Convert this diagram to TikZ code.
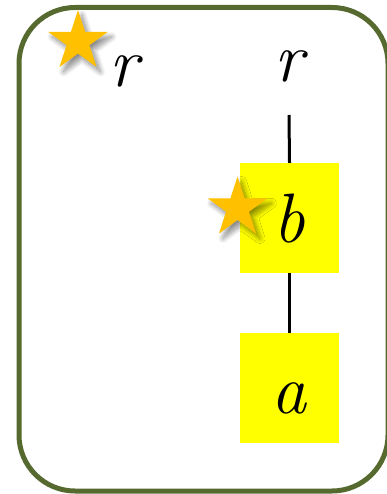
\documentclass[tikz,border=0pt]{standalone}
\usepackage{fontspec}
\usetikzlibrary{shapes.geometric,shadows.blur}
\definecolor{frameolive}{RGB}{86,106,47}
\definecolor{stargold}{RGB}{255,192,0}
\definecolor{boxyellow}{RGB}{255,255,0}
\tikzset{
  goldstar/.style={star, star points=5, star point ratio=2.618, minimum size=63pt, inner sep=0pt,
    fill=stargold, draw=none, blur shadow={shadow xshift=4pt, shadow yshift=-5pt, shadow blur steps=10, shadow blur radius=5pt, shadow opacity=45}},
  label text/.style={inner sep=0pt, font=\fontsize{70}{72}\selectfont\itshape},
  ybox/.style={fill=boxyellow, draw=none, minimum width=99pt, minimum height=110pt, inner sep=0pt},
  edge line/.style={line width=3pt, black}
}
\begin{document}
\begin{tikzpicture}[x=1pt,y=-1pt]
\useasboundingbox (0,0) rectangle (386,494);
\draw[frameolive, line width=5pt, rounded corners=56pt] (19,7.5) rectangle (388,491);
% boxes
\node[ybox] (b) at (289.5,218) {};
\node[ybox] (a) at (289.5,388) {};
\node[label text, anchor=base] at (289,242) {b};
\node[label text, anchor=base] at (289,413) {a};
% labels r
\node[label text, anchor=base] (r2) at (289,82) {r};
\node[label text, anchor=base] (r1) at (124,87) {r};
\coordinate (rt) at (289,115);
\draw[edge line] (rt) -- (b.north);
\draw[edge line] (b.south) -- (a.north);
% stars
\node[goldstar] (s1) at (78,41.5) {};
\node[goldstar] (s2) at (237.5,208) {};
\end{tikzpicture}
\end{document}
